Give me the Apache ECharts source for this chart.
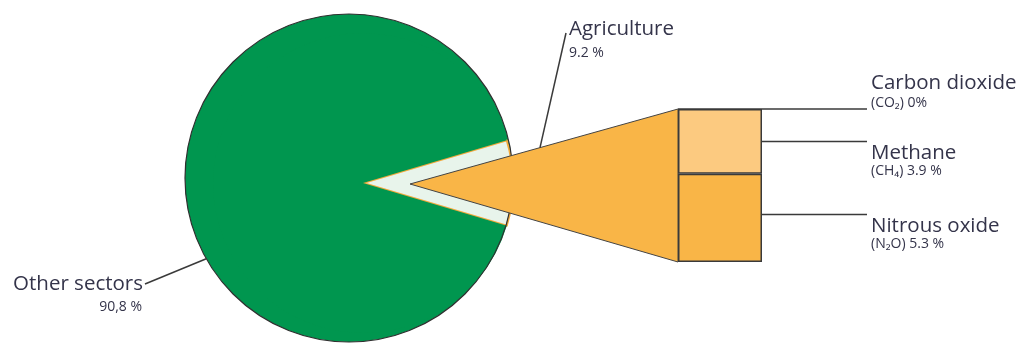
<!DOCTYPE html>
<html><head><meta charset="utf-8">
<script src="https://cdn.jsdelivr.net/npm/echarts@6/dist/echarts.min.js"></script>
<style>html,body{margin:0;padding:0;background:#fff}#c{width:1022px;height:343px}</style>
</head><body><div id="c"></div>
<script>
// ---- data ----
const sectorNames = ['Agriculture', 'Other sectors'];
const sectorShares = [9.2, 90.8];
const sectorShareText = ['9.2 %', '90,8 %'];
const gasNames = ['Carbon dioxide', 'Methane', 'Nitrous oxide'];
const gasFormulas = ['(CO\u2082)', '(CH\u2084)', '(N\u2082O)'];
const gasShares = [0, 3.9, 5.3];
const gasShareText = ['0%', '3.9 %', '5.3 %'];

// ---- layout / style ----
const DISK = {cx: 349, cy: 178, r: 164};
const WEDGE = {cx: 363, cy: 183, r: 150};
const APEX = [410, 184];
const LEADER_FRAC = [0.5, 0.5, 0.46];   // position of leader along each bar segment (from top)
const FONT = "'Open Sans', 'DejaVu Sans', sans-serif";
const BIG = 20.5, SMALL = 14;
const TXT = '#34344a';
const LINE = '#3a3a3a';
const GREEN = '#00964f';
const PALE = '#e8f4eb';
const WEDGE_EDGE = '#f2a93b';
const GAS_COLORS = ['#fde0b0', '#fcca80', '#f9b547'];
const TRI_COLOR = '#f9b547';

const sectorTotal = sectorShares.reduce((a, b) => a + b, 0);
const startAngle = sectorShares[0] / sectorTotal * 360 / 2;
const gasTotal = gasShares.reduce((a, b) => a + b, 0);
const stackOrder = [2, 1, 0];
const gasRanges = [];
let acc = 0;
stackOrder.forEach(i => { gasRanges[i] = [acc, acc + gasShares[i]]; acc += gasShares[i]; });

function txt(text, x, y, size, align, vAlign) {
  return {type: 'text', style: {text, x, y, fill: TXT, fontSize: size, fontFamily: FONT,
    align: align, verticalAlign: vAlign}};
}

const series = [];
// background disk
series.push({
  type: 'custom', z: 1, silent: true, coordinateSystem: 'none', data: [[0]],
  renderItem() {
    return {type: 'circle', shape: {cx: DISK.cx, cy: DISK.cy, r: DISK.r},
      style: {fill: GREEN, stroke: null}};
  }
});
// sector pie (agriculture wedge + other sectors)
series.push({
  type: 'pie', z: 2, silent: true, center: [WEDGE.cx, WEDGE.cy], radius: WEDGE.r,
  startAngle, clockwise: true, label: {show: false}, labelLine: {show: false},
  data: sectorNames.map((n, i) => ({name: n, value: sectorShares[i],
    itemStyle: i === 0 ? {color: PALE, borderColor: WEDGE_EDGE, borderWidth: 2}
                       : {color: GREEN, borderWidth: 0}}))
});
// disk outline on top
series.push({
  type: 'custom', z: 3, silent: true, coordinateSystem: 'none', data: [[0]],
  renderItem() {
    return {type: 'circle', shape: {cx: DISK.cx, cy: DISK.cy, r: DISK.r},
      style: {fill: null, stroke: '#2f2f2f', lineWidth: 1.2}};
  }
});
// connector triangle + agriculture label
series.push({
  type: 'custom', z: 4, silent: true, coordinateSystem: 'cartesian2d',
  data: [[0, 0, gasTotal]],
  renderItem(params, api) {
    const lo = api.coord([0, api.value(1)]);
    const hi = api.coord([0, api.value(2)]);
    const half = api.size([1, 0])[0] / 2;
    const left = lo[0] - half;
    const t = (540 - APEX[0]) / (left - APEX[0]);
    const px = APEX[0] + t * (left - APEX[0]);
    const py = APEX[1] + t * (hi[1] - APEX[1]);
    return {type: 'group', children: [
      {type: 'polygon', shape: {points: [APEX, [left, hi[1]], [left, lo[1]]]},
       style: {fill: TRI_COLOR, stroke: '#444', lineWidth: 1}},
      {type: 'line', shape: {x1: px, y1: py, x2: 566, y2: 33},
       style: {stroke: LINE, lineWidth: 1.5}},
      txt(sectorNames[0], 569, 19, BIG, 'left', 'top'),
      txt(sectorShareText[0], 569, 46, SMALL, 'left', 'top')
    ]};
  }
});
// bars
stackOrder.forEach(i => {
  series.push({
    type: 'bar', z: 5, silent: true, stack: 'gas', name: gasNames[i], barWidth: '100%',
    data: [gasShares[i]],
    itemStyle: {color: GAS_COLORS[i], borderColor: LINE, borderWidth: 1.5}
  });
});
// bar leaders + labels
series.push({
  type: 'custom', z: 6, silent: true, coordinateSystem: 'cartesian2d',
  data: gasNames.map((n, i) => [0, gasRanges[i][0], gasRanges[i][1], i]),
  renderItem(params, api) {
    const i = api.value(3);
    const lo = api.coord([0, api.value(1)]);
    const hi = api.coord([0, api.value(2)]);
    const half = api.size([1, 0])[0] / 2;
    const x0 = lo[0] + half;
    const y = hi[1] + (lo[1] - hi[1]) * LEADER_FRAC[i];
    const x1 = x0 + 105;
    const tx = x1 + 4;
    const kids = [{type: 'line', shape: {x1: x0, y1: y, x2: x1, y2: y},
      style: {stroke: LINE, lineWidth: 1.5}}];
    const sub = gasFormulas[i] + ' ' + gasShareText[i];
    if (gasShares[i] === 0) {
      kids.push(txt(gasNames[i], tx, y - 36, BIG, 'left', 'top'));
      kids.push(txt(sub, tx, y - 13, SMALL, 'left', 'top'));
    } else {
      kids.push(txt(gasNames[i], tx, y + 1, BIG, 'left', 'top'));
      kids.push(txt(sub, tx, y + 23, SMALL, 'left', 'top'));
    }
    return {type: 'group', children: kids};
  }
});
// other sectors label
series.push({
  type: 'custom', z: 6, silent: true, coordinateSystem: 'none',
  data: [[1]],
  renderItem() {
    const a = 29.5 * Math.PI / 180;
    const ex = DISK.cx - DISK.r * Math.cos(a), ey = DISK.cy + DISK.r * Math.sin(a);
    return {type: 'group', children: [
      {type: 'line', shape: {x1: 145, y1: 284, x2: ex, y2: ey}, style: {stroke: LINE, lineWidth: 1.5}},
      txt(sectorNames[1], 143, 274, BIG, 'right', 'top'),
      txt(sectorShareText[1], 142, 300, SMALL, 'right', 'top')
    ]};
  }
});

const chart = echarts.init(document.getElementById('c'), null, {renderer: 'canvas'});
chart.setOption({
  animation: false,
  grid: {left: 678, top: 109, width: 84, height: 153},
  xAxis: {type: 'category', data: ['Agriculture'], show: false},
  yAxis: {type: 'value', min: 0, max: gasTotal, show: false},
  series
});
</script></body></html>
